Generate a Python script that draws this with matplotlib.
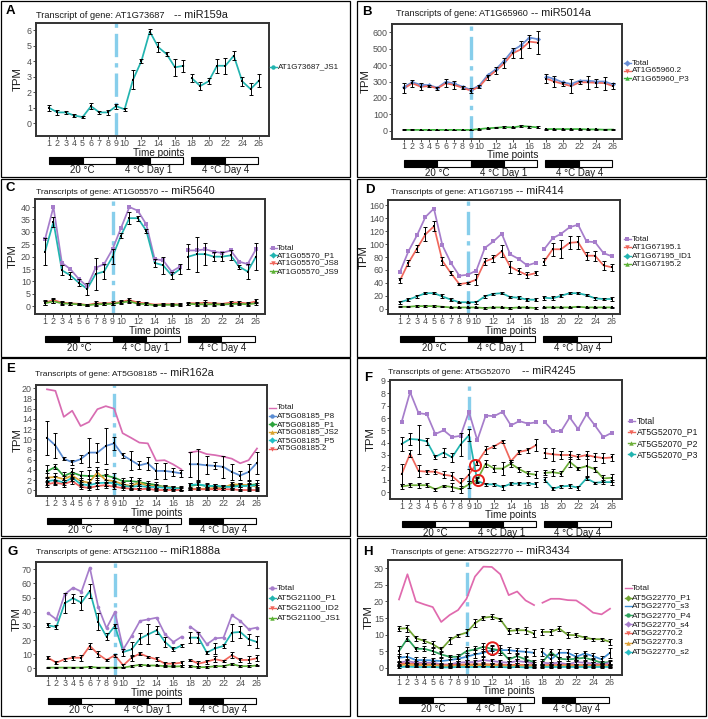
import matplotlib
matplotlib.use('Agg')
import matplotlib.pyplot as plt
from matplotlib.lines import Line2D
from matplotlib.patches import Rectangle
import matplotlib.transforms as mtransforms

plt.rcParams['font.family'] = ['Liberation Sans', 'DejaVu Sans']

# ---------------- data ----------------
TIME = [1, 2, 3, 4, 5, 6, 7, 8, 9, 10, 11, 12, 13, 14, 15, 16, 17, 18, 19, 20, 21, 22, 23, 24, 25, 26]
XTICKS = [1, 2, 3, 4, 5, 6, 7, 8, 9, 10, 12, 14, 16, 18, 20, 22, 24, 26]
COND_LABELS = ["20 °C", "4 °C Day 1", "4 °C Day 4"]

# Panel A
A_js1 = [1.0, 0.7, 0.7, 0.5, 0.4, 1.1, 0.7, 0.7, 1.1, 0.9, 2.8, 4.0, 5.9, 4.9, 4.45, 3.6, 3.7, 2.9, 2.4, 2.7, 3.7, 3.7, 4.35, 2.7, 2.2, 2.75]
A_js1_err = [0.2, 0.15, 0.08, 0.1, 0.08, 0.2, 0.1, 0.15, 0.15, 0.08, 0.6, 0.15, 0.15, 0.3, 0.12, 0.55, 0.4, 0.25, 0.25, 0.2, 0.45, 0.5, 0.3, 0.3, 0.4, 0.4]

# Panel B
B_total = [268, 295, 280, 278, 262, 298, 288, 268, 250, 275, 338, 375, 428, 490, 520, 568, 558, 330, 315, 295, 285, 305, 305, 300, 300, 282]
B_t2 = [258, 289, 268, 272, 258, 289, 279, 262, 244, 268, 325, 366, 411, 472, 496, 543, 537, 318, 300, 285, 272, 295, 295, 292, 290, 272]
B_t2_err = [30, 20, 20, 8, 10, 25, 25, 10, 15, 10, 15, 20, 30, 30, 50, 40, 70, 25, 35, 15, 45, 10, 40, 25, 40, 20]
B_p3 = [5, 5, 5, 5, 5, 5, 5, 5, 5, 10, 15, 18, 22, 20, 28, 25, 20, 10, 10, 10, 10, 10, 8, 8, 6, 7]
B_p3_err = [3, 3, 2, 2, 2, 2, 2, 2, 2, 3, 4, 4, 6, 5, 8, 6, 6, 3, 3, 3, 3, 3, 2, 2, 2, 2]

# Panel C
C_total = [27, 40, 17.5, 15, 11, 8, 15.5, 17, 23, 31.5, 40, 38.5, 33, 19, 18.5, 14, 16, 22.5, 22.5, 23, 22, 21.5, 22.5, 18, 17, 23]
C_p1 = [22, 34, 14.5, 12.5, 9.5, 7, 13, 14, 20, 28.5, 35.5, 35.5, 30.5, 17.5, 16.5, 12.5, 15, 20, 21, 21, 20, 20, 20.5, 16, 14, 20]
C_p1_err = [5.5, 2, 2, 1.5, 1.5, 2.5, 6.5, 3, 3, 1, 2.5, 1, 0.8, 1.5, 3.5, 1.5, 2, 5, 7, 4.5, 1.8, 1.8, 2, 0.8, 3, 5.5]
C_js8 = [1.5, 2.5, 1.5, 1.2, 1, 0.5, 1.2, 1.2, 1.3, 1.8, 2.5, 1.5, 1.2, 0.7, 0.9, 0.8, 0.8, 1.3, 1.2, 1.5, 1.2, 1, 1.5, 1.5, 1.2, 2]
C_js8_err = [1, 1, 0.6, 0.5, 0.4, 0.4, 0.8, 0.6, 0.7, 0.6, 0.8, 0.6, 0.5, 0.3, 0.4, 0.4, 0.4, 0.6, 0.7, 1, 0.6, 0.4, 0.8, 0.7, 0.6, 0.8]
C_js9 = [1.2, 2, 1.2, 1, 0.8, 0.4, 0.8, 0.9, 1, 1.5, 2, 1, 0.9, 0.4, 0.6, 0.6, 0.5, 1, 0.8, 0.8, 0.8, 0.7, 0.9, 1, 0.8, 1.2]
C_js9_err = [0.8, 0.8, 0.5, 0.4, 0.3, 0.3, 0.6, 0.5, 0.5, 0.5, 0.6, 0.5, 0.4, 0.3, 0.3, 0.3, 0.3, 0.5, 0.5, 0.8, 0.5, 0.3, 0.6, 0.5, 0.5, 0.6]

# Panel D
D_total = [57, 89, 113.5, 142, 155, 98, 71, 51, 52.6, 59, 94, 104, 116, 84, 77, 67, 71, 92, 109, 116, 126, 130, 104, 103, 86, 81]
D_t1 = [44, 71, 93, 115, 127.5, 74, 55, 38, 40, 45, 73, 78, 89, 65, 58, 52, 55, 73, 92, 92, 102, 103, 82, 82, 67, 64]
D_t1_err = [4, 5, 5, 11, 8, 6, 3, 2, 2, 9, 6, 5, 9, 9, 5, 5, 3, 6, 10, 14, 10, 10, 6, 8, 7, 5]
D_id1 = [10, 14, 19, 24, 24, 19, 14, 10, 10, 10, 19, 23, 24, 18, 17, 14, 14, 17, 16, 20, 24, 24, 21, 16, 15, 15]
D_id1_err = [2, 2, 2, 2, 2, 3, 2, 1, 1, 2, 2, 2, 2, 2, 2, 2, 2, 3, 3, 2, 2, 2, 2, 2, 2, 3]
D_t2 = [3, 3, 4, 4, 4, 3, 2, 2, 2, 2, 1, 2, 2, 1, 2, 2, 1, 2, 2, 2, 2, 3, 2, 2, 2, 2]
D_t2_err = [1, 1, 1, 1, 1, 1, 1, 1, 1, 1, 1, 1, 1, 1, 1, 1, 1, 1, 1, 1, 1, 1, 1, 1, 1, 1]

# Panel E
E_total = [19.8, 19.5, 14.4, 15.6, 12.6, 13.4, 15.9, 16.5, 16.0, 11.2, 10.3, 9.35, 9.2, 5.8, 5.9, 5.1, 4.1, 7.4, 7.7, 7.1, 6.9, 6.6, 6.2, 5.3, 5.9, 8.2]
E_p8 = [10.3, 8.8, 6.2, 5.5, 6.1, 7.4, 7.4, 8.7, 9.2, 6.9, 5.9, 4.9, 5.3, 3.8, 3.8, 3.6, 3.3, 5.1, 5.1, 4.9, 4.8, 4.6, 3.6, 2.9, 3.6, 5.4]
E_p8_err = [3.3, 2.4, 0.3, 0.5, 0.8, 2.9, 1.9, 3.5, 1.3, 0.5, 1.9, 0.8, 1.3, 1.5, 1.5, 0.7, 0.7, 2.4, 3.0, 1.8, 0.7, 2.1, 1.5, 0.8, 1.6, 2.2]
E_p1 = [3.7, 4.6, 2.8, 3.5, 2.9, 2.8, 2.8, 2.9, 2.5, 1.8, 1.8, 1.6, 1.3, 1.05, 0.65, 0.5, 0.45, 0.85, 1.1, 0.85, 0.85, 0.7, 0.85, 0.85, 1.0, 1.2]
E_p1_err = [1.3, 0.5, 0.8, 0.8, 0.8, 1.2, 1.2, 1.3, 0.8, 0.6, 0.9, 0.8, 0.6, 0.6, 0.4, 0.3, 0.3, 0.5, 0.8, 0.5, 0.4, 0.3, 0.4, 0.5, 0.8, 0.8]
E_js2 = [2.5, 2.6, 2.2, 2.9, 1.8, 1.5, 3.5, 2.0, 1.8, 1.2, 0.85, 1.5, 0.85, 0.85, 0.65, 0.5, 0.3, 0.3, 0.3, 0.3, 0.45, 0.45, 1.2, 1.1, 1.0, 0.7]
E_js2_err = [0.8, 0.8, 0.6, 0.6, 0.6, 0.8, 1.0, 1.2, 0.6, 0.5, 0.5, 0.6, 0.5, 0.4, 0.3, 0.3, 0.3, 0.3, 0.3, 0.3, 0.3, 0.3, 0.4, 0.4, 0.4, 0.4]
E_p5 = [1.8, 2.0, 1.5, 2.5, 1.2, 1.0, 1.4, 1.5, 1.4, 0.85, 0.7, 0.85, 0.65, 0.65, 0.5, 0.45, 0.3, 1.0, 1.2, 0.85, 0.85, 0.7, 0.65, 0.85, 0.85, 1.0]
E_p5_err = [0.8, 0.8, 0.5, 0.6, 0.5, 0.5, 0.6, 0.6, 0.5, 0.4, 0.4, 0.4, 0.3, 0.3, 0.3, 0.2, 0.2, 0.5, 0.5, 0.3, 0.3, 0.3, 0.3, 0.3, 0.4, 0.4]
E_t2 = [1.2, 1.5, 1.2, 1.8, 0.7, 0.45, 0.85, 1.0, 0.7, 0.45, 0.3, 0.2, 0.3, 0.05, 0.05, 0.05, 0.05, 0.2, 0.2, 0.2, 0.2, 0.2, 0.2, 0.05, 0.05, 0.05]
E_t2_err = [0.6, 0.5, 0.5, 0.6, 0.4, 0.3, 0.5, 0.5, 0.4, 0.3, 0.2, 0.2, 0.2, 0.1, 0.1, 0.1, 0.1, 0.2, 0.2, 0.2, 0.2, 0.2, 0.2, 0.1, 0.1, 0.1]

# Panel F
F_total = [5.7, 8.1, 6.4, 6.3, 4.7, 5.0, 4.45, 4.55, 6.5, 4.2, 6.2, 6.15, 6.5, 5.4, 5.75, 5.55, 5.65, 5.7, 4.95, 4.95, 6.05, 5.1, 6.3, 5.4, 4.45, 4.8]
F_p1 = [1.45, 3.1, 1.7, 1.65, 1.65, 1.4, 1.3, 0.7, 1.4, 2.4, 3.4, 3.7, 4.1, 2.5, 3.25, 3.4, 3.8, 3.15, 3.05, 3.0, 3.0, 2.85, 3.0, 2.85, 2.75, 2.8]
F_p1_err = [0.8, 0.3, 0.5, 0.15, 0.2, 0.3, 0.3, 0.4, 0.5, 0.2, 0.3, 0.15, 0.1, 0.1, 0.15, 0.2, 0.5, 0.4, 0.55, 0.3, 0.3, 0.2, 0.3, 0.3, 0.4, 0.3]
F_p2 = [0.45, 0.55, 0.55, 0.55, 0.22, 0.5, 0.4, 0.22, 0.62, 1.0, 2.3, 1.9, 1.9, 2.3, 1.85, 1.5, 1.4, 1.55, 1.6, 1.5, 2.45, 1.9, 2.1, 1.85, 1.1, 1.15]
F_p2_err = [0.2, 0.15, 0.2, 0.15, 0.1, 0.1, 0.3, 0.3, 0.3, 0.2, 0.3, 0.3, 0.5, 0.3, 0.2, 0.2, 0.3, 0.2, 0.3, 0.2, 0.4, 0.15, 0.8, 0.2, 0.3, 0.3]
F_p3 = [3.9, 4.3, 4.25, 4.1, 2.85, 3.2, 2.8, 3.85, 4.6, 0.9, 0.62, 0.62, 0.4, 0.68, 0.68, 0.7, 0.62, 1.0, 0.27, 0.45, 0.5, 0.35, 1.1, 0.75, 0.8, 0.8]
F_p3_err = [0.6, 0.5, 1.2, 0.3, 0.15, 0.4, 0.4, 0.9, 0.5, 0.2, 0.15, 0.15, 0.2, 0.1, 0.15, 0.15, 0.2, 0.2, 0.1, 0.1, 0.15, 0.15, 0.15, 0.1, 0.15, 0.2]
F_circles_x = [9.7, 10.1]
F_circles_y = [2.15, 0.97]

# Panel G
G_total = [39, 34.6, 52.3, 57, 54.2, 71.2, 43.6, 28.3, 39.8, 13.4, 22.9, 33.5, 34.6, 35.8, 24, 18.6, 22.4, 29.5, 25.2, 17, 21.2, 21.7, 37.5, 33.5, 27.6, 28.8]
G_p1 = [30.4, 29.2, 46, 49.5, 46.4, 54.7, 32.8, 22.4, 30, 11.5, 13.4, 21, 24, 26.9, 18.6, 13.4, 16.3, 21.7, 21.7, 11.1, 14.1, 15.8, 25.2, 25.7, 20.5, 18.6]
G_p1_err = [1.5, 1.5, 7, 3, 5, 5, 6, 2.5, 1.5, 2.5, 5, 4, 7, 3, 3.5, 1.5, 1, 4, 4, 1, 4, 1.5, 6, 4, 4, 4]
G_id2 = [7.5, 4, 6.4, 7.5, 7.5, 15.8, 10, 5.9, 9.2, 2.1, 7.5, 10.4, 8, 6.4, 3.3, 3.3, 4, 5.9, 3.3, 4.7, 6.4, 5.2, 9.2, 5.9, 5.9, 7.1]
G_id2_err = [1, 1, 1, 1.5, 2, 2, 2, 1, 1, 1, 2, 1, 1, 1.5, 1.5, 1, 1.5, 1, 2, 1.5, 2, 1, 2, 1.5, 2.5, 2]
G_js1 = [0.5, 0.5, 0.5, 0.5, 0.5, 1, 0.5, 0.5, 0.5, 0.5, 1.5, 2.5, 2, 2, 1.5, 1.2, 1.5, 1.5, 0.8, 0.8, 1.5, 1.5, 3, 1.5, 1.5, 2]
G_js1_err = [0.5, 0.5, 0.5, 0.5, 0.5, 0.5, 0.5, 0.5, 0.5, 0.5, 0.6, 0.6, 0.5, 0.5, 0.5, 0.5, 0.5, 0.5, 0.5, 0.5, 0.5, 0.5, 0.8, 0.5, 0.5, 0.6]

# Panel H
H_total = [20.6, 28.2, 20, 19.1, 18.3, 13.8, 15.9, 17.4, 20.8, 27.5, 30.5, 30.4, 28.2, 21.9, 23, 20.3, 18.9, 19.6, 20.8, 20.8, 20.4, 20.3, 18.6, 16.6, 16.1, 17.8]
H_p1 = [11.8, 11.9, 8.9, 8.1, 7.1, 5.5, 8.3, 9.8, 10.6, 13.4, 15.1, 15.4, 14.6, 11.1, 11.3, 11.3, 10.3, 10.8, 10.8, 11.8, 9.9, 9.8, 9.1, 8.6, 8.6, 7.8]
H_p1_err = [0.8, 1.0, 0.8, 0.6, 1.0, 0.6, 1.0, 0.5, 1.0, 1.2, 0.6, 0.8, 0.5, 1.0, 0.8, 1.0, 1.0, 0.8, 0.8, 0.8, 0.8, 0.6, 0.5, 0.4, 0.4, 0.8]
H_s3 = [3, 3.3, 2.3, 2.3, 2.2, 2, 2.3, 2.7, 3.3, 4, 4.5, 5.3, 5.3, 5.3, 5, 4.8, 4.5, 4.7, 2.5, 4.5, 4.5, 3.3, 4.3, 3.5, 2.5, 4.5]
H_s3_err = [1.2, 1.0, 0.8, 0.8, 0.8, 0.8, 0.8, 0.8, 1.0, 1.2, 1.0, 1.5, 1.5, 1.0, 1.0, 1.2, 1.0, 1.2, 1.5, 1.2, 1.0, 1.0, 0.8, 1.0, 1.0, 1.5]
H_p4 = [5, 8.8, 5.7, 5.7, 5, 4, 3.3, 3.3, 5, 5.5, 6.3, 5.7, 5.2, 2.5, 3.5, 2.5, 1.7, 1.7, 4.7, 2.7, 2.5, 2.7, 3, 2.3, 1.5, 1.7]
H_p4_err = [1.5, 0.8, 0.6, 0.8, 1.0, 0.8, 0.6, 0.8, 1.2, 1.0, 1.2, 0.8, 0.8, 0.6, 0.8, 0.6, 0.5, 0.8, 0.8, 0.6, 0.6, 0.6, 0.8, 0.6, 0.5, 0.6]
H_s4 = [1.5, 2, 1.5, 1.5, 1.5, 1, 1, 1.5, 1.7, 1.7, 2.3, 2, 1.7, 1.5, 2, 1.7, 1.3, 1.5, 1.3, 1.5, 1, 1.7, 1.5, 1.3, 1, 1.5]
H_s4_err = [0.6, 0.6, 0.5, 0.5, 0.5, 0.5, 0.5, 0.5, 0.6, 0.6, 0.8, 0.6, 0.6, 0.5, 0.6, 0.5, 0.5, 0.5, 0.5, 0.5, 0.5, 0.6, 0.5, 0.5, 0.5, 0.6]
H_t2 = [1.2, 1.3, 1.1, 1.0, 1.0, 0.8, 0.8, 0.9, 1.0, 1.0, 1.1, 1.0, 0.9, 0.8, 0.9, 0.8, 0.8, 0.8, 0.8, 0.8, 0.8, 0.8, 0.8, 0.8, 0.8, 0.8]
H_t2_err = [0.5, 0.5, 0.4, 0.4, 0.4, 0.4, 0.4, 0.4, 0.4, 0.4, 0.5, 0.4, 0.4, 0.4, 0.4, 0.4, 0.4, 0.4, 0.4, 0.4, 0.4, 0.4, 0.4, 0.4, 0.4, 0.4]
H_t3 = [0.8, 0.9, 0.7, 0.7, 0.7, 0.5, 0.5, 0.6, 0.7, 0.7, 0.8, 0.7, 0.6, 0.5, 0.6, 0.5, 0.5, 0.5, 0.5, 0.5, 0.5, 0.5, 0.5, 0.5, 0.5, 0.5]
H_t3_err = [0.4, 0.4, 0.3, 0.3, 0.3, 0.3, 0.3, 0.3, 0.3, 0.3, 0.4, 0.3, 0.3, 0.3, 0.3, 0.3, 0.3, 0.3, 0.3, 0.3, 0.3, 0.3, 0.3, 0.3, 0.3, 0.3]
H_s2 = [0.2, 0.3, 0.2, 0.2, 0.2, 0.1, 0.1, 0.2, 0.2, 0.2, 0.3, 0.2, 0.2, 0.1, 0.2, 0.1, 0.1, 0.1, 0.1, 0.1, 0.1, 0.1, 0.1, 0.1, 0.1, 0.1]
H_s2_err = [0.2, 0.2, 0.1, 0.1, 0.1, 0.1, 0.1, 0.1, 0.1, 0.1, 0.2, 0.1, 0.1, 0.1, 0.1, 0.1, 0.1, 0.1, 0.1, 0.1, 0.1, 0.1, 0.1, 0.1, 0.1, 0.1]
H_circle_x = [12]
H_circle_y = [5.8]

# ---------------- colours ----------------
TEAL = '#22B4B0'
PURPLE = '#A67DCB'
RED = '#F0675C'
GREEN = '#5DB136'
BLUE = '#6B8FD6'
PINK = '#D86CB2'
VLINE = '#87CEEB'

# ---------------- figure ----------------
W, H = 708, 719
fig = plt.figure(figsize=(W / 100, H / 100), dpi=100)
renderer = fig.canvas.get_renderer()


def fx(x):
    return x / W


def fy(y):
    return 1 - y / H


def panel(letter, letter_xy, box, axbox, tick1, tick26, yhi, yhi_px, y0_px, ystep,
          title1, title2, title_xy, title_gap, ylab_x, series, leg_mx, leg_tx, leg_rows,
          leg_fs=6.0, circles=None, circle_ms=8, title_fs=6.1):
    # outer box
    x0, y0, x1, y1 = box
    fig.add_artist(Rectangle((fx(x0), fy(y1)), (x1 - x0) / W, (y1 - y0) / H,
                             transform=fig.transFigure, fill=False, lw=0.9, ec='black'))
    fig.text(fx(letter_xy[0]), fy(letter_xy[1]), letter, fontsize=9.5, fontweight='bold',
             va='center', ha='left')
    L, T, R, B = axbox
    ax = fig.add_axes([fx(L), fy(B), (R - L) / W, (B - T) / H])
    ppx = (tick26 - tick1) / 25.0
    ax.set_xlim(1 - (tick1 - L) / ppx, 26 + (R - tick26) / ppx)
    ppy = (y0_px - yhi_px) / yhi
    ax.set_ylim(-(B - y0_px) / ppy, yhi + (yhi_px - T) / ppy)
    yt = []
    v = 0
    while v <= yhi + 1e-9:
        yt.append(v)
        v += ystep
    ax.set_yticks(yt)
    ax.set_yticklabels([('%g' % t) for t in yt])
    ax.set_xticks(XTICKS)
    ax.set_xticklabels([str(t) for t in XTICKS])
    ax.tick_params(direction='out', length=2.0, width=0.6, color='#333333',
                   labelcolor='#4D4D4D', labelsize=6.4, pad=1.0)
    ax.tick_params(axis='x', labelsize=6.4, pad=0.4)
    for s in ax.spines.values():
        s.set_linewidth(1.4)
        s.set_color('#333333')
    ax.axvline(9, color=VLINE, lw=2.4, dashes=(7, 1.8, 1.3, 1.8), zorder=1)

    segs = [(0, 17), (17, 26)]
    for (label, vals, err, col, mk, lmk) in series:
        for a, b in segs:
            xs = TIME[a:b]
            ys = vals[a:b]
            ax.plot(xs, ys, color=col, lw=1.25, zorder=2)
            if err is None:
                if mk:
                    ax.plot(xs, ys, ls='none', marker=mk, ms=2.6, color=col, mew=0, zorder=3)
            else:
                ax.errorbar(xs, ys, yerr=err[a:b], fmt='none', ecolor='black',
                            elinewidth=0.7, capsize=1.5, capthick=0.7, zorder=4)
                ax.plot(xs, ys, ls='none', marker='s', ms=1.6, color='black', mew=0, zorder=5)
    if circles is not None:
        ax.plot(circles[0], circles[1], ls='none', marker='o', ms=circle_ms, mfc='none',
                mec='#E8201C', mew=1.4, zorder=6, clip_on=False)

    # y label
    fig.text(fx(ylab_x), fy((T + B) / 2), 'TPM', rotation=90, va='center', ha='center',
             fontsize=8.2, color='#1A1A1A')
    # x label
    bt = mtransforms.blended_transform_factory(ax.transData, fig.transFigure)
    ax.text(14, fy(B + 16.5), 'Time points', transform=bt, ha='center', va='center',
            fontsize=7.2, color='#1A1A1A')
    # condition bars
    bar_top = B + 21.5
    bar_h = 6.5
    for (xa, xb, fc) in [(1, 5, 'black'), (5, 9, 'white'), (9, 13, 'black'), (13, 16.95, 'white'),
                         (17.9, 21.9, 'black'), (21.9, 25.9, 'white')]:
        ax.add_patch(Rectangle((xa, fy(bar_top + bar_h)), xb - xa, bar_h / H, transform=bt,
                               fc=fc, ec='black', lw=0.8, clip_on=False))
    for lab, xc in zip(COND_LABELS, [5, 12.9, 22]):
        ax.text(xc, fy(B + 34), lab, transform=bt, ha='center', va='center', fontsize=7,
                color='#1A1A1A')
    # title
    t1 = fig.text(fx(title_xy[0]), fy(title_xy[1] + 2.5), title1, fontsize=title_fs, va='baseline',
                  ha='left', color='#1A1A1A')
    ext = t1.get_window_extent(renderer=renderer)
    fig.text(fx(ext.x1 + title_gap), fy(title_xy[1] + 2.5), title2, fontsize=7.8, va='baseline',
             ha='left', color='#1A1A1A')
    # legend (manual)
    for (label, vals, err, col, mk, lmk), ry in zip(series, leg_rows):
        fig.add_artist(Line2D([fx(leg_mx - 3.5), fx(leg_mx + 3.5)], [fy(ry), fy(ry)],
                              transform=fig.transFigure, color=col, lw=1.0))
        if lmk:
            fig.add_artist(Line2D([fx(leg_mx)], [fy(ry)], transform=fig.transFigure, ls='none',
                                  marker=lmk, ms=3.2, color=col, mew=0))
        fig.text(fx(leg_tx), fy(ry), label, fontsize=leg_fs, va='center', ha='left',
                 color='#1A1A1A')
    return ax


# Panel A
panel('A', (6, 11), (1, 1, 350, 177), (36, 23, 269, 136), 49, 259, 6, 30, 123.3, 1,
      'Transcript of gene: AT1G73687', '-- miR159a', (36, 15), 9, 18,
      [('AT1G73687_JS1', A_js1, A_js1_err, TEAL, 'o', 'o')],
      273, 278, [67], leg_fs=5.8, title_fs=6.7)

# Panel B
panel('B', (362, 12), (357, 1, 706, 177), (392, 24, 622, 139), 404, 613, 600, 32.3, 130.7, 100,
      'Transcripts of gene: AT1G65960', '-- miR5014a', (396, 14), 3, 366,
      [('Total', B_total, None, BLUE, 'D', 'D'),
       ('AT1G65960.2', B_t2, B_t2_err, RED, 'v', 'v'),
       ('AT1G65960_P3', B_p3, B_p3_err, '#3DB53D', '^', '^')],
      627, 632, [63.3, 70.7, 78.3], leg_fs=5.9, title_fs=6.6)

# Panel C
panel('C', (6, 188), (1, 179, 350, 357), (35, 199, 265, 314), 45, 256, 40, 207, 306.3, 5,
      'Transcripts of gene: AT1G05570', '-- miR5640', (36, 191), 3, 13,
      [('Total', C_total, None, PURPLE, 's', 's'),
       ('AT1G05570_P1', C_p1, C_p1_err, TEAL, 'D', 'D'),
       ('AT1G05570_JS8', C_js8, C_js8_err, RED, 'v', 'v'),
       ('AT1G05570_JS9', C_js9, C_js9_err, GREEN, '^', '^')],
      273, 277, [248, 255.3, 263, 271.3], leg_fs=5.9)

# Panel D
panel('D', (365, 190), (357, 179, 706, 357), (388, 200, 620, 314), 400, 612, 160, 205.3, 308.7, 20,
      'Transcripts of gene: AT1G67195', '-- miR414', (391, 191), 3, 364,
      [('Total', D_total, None, PURPLE, 's', 's'),
       ('AT1G67195.1', D_t1, D_t1_err, RED, 'v', 'v'),
       ('AT1G67195_ID1', D_id1, D_id1_err, TEAL, 'D', 'D'),
       ('AT1G67195.2', D_t2, D_t2_err, GREEN, '^', '^')],
      627, 632, [239, 247.3, 255.7, 264], leg_fs=5.9)

# Panel E
panel('E', (6, 369), (1, 358, 350, 536), (36, 385, 267, 496), 47, 257, 20, 388.3, 490.3, 2,
      'Transcripts of gene: AT5G08185', '-- miR162a', (35, 373), 3, 18,
      [('Total', E_total, None, PINK, None, None),
       ('AT5G08185_P8', E_p8, E_p8_err, '#5B8DD3', 'o', 'o'),
       ('AT5G08185_P1', E_p1, E_p1_err, '#2EA33C', 'D', 'D'),
       ('AT5G08185_JS2', E_js2, E_js2_err, '#D9A330', '^', '^'),
       ('AT5G08185_P5', E_p5, E_p5_err, '#22BFC4', 'D', 'D'),
       ('AT5G08185.2', E_t2, E_t2_err, '#EF5F5B', 'v', 'v')],
      272, 277, [407.7, 416, 424.3, 432, 440.3, 448.7], leg_fs=5.9)

# Panel F
panel('F', (364, 378), (357, 358, 706, 536), (390, 380, 622, 499), 401.7, 611.7, 9, 381, 492, 1,
      'Transcripts of gene: AT5G52070', '-- miR4245', (388, 371), 12, 371,
      [('Total', F_total, None, PURPLE, 's', 's'),
       ('AT5G52070_P1', F_p1, F_p1_err, RED, 'v', 'v'),
       ('AT5G52070_P2', F_p2, F_p2_err, '#6EAF3A', '^', '^'),
       ('AT5G52070_P3', F_p3, F_p3_err, TEAL, 'D', 'D')],
      631, 637, [421, 432, 443.3, 454.3], leg_fs=6.2,
      circles=(F_circles_x, F_circles_y), circle_ms=8)

# Panel G
panel('G', (8, 552), (1, 538, 350, 716), (36, 562, 267, 676), 48, 257, 70, 569.3, 668.3, 10,
      'Transcripts of gene: AT5G21100', '-- miR1888a', (36, 552), 3, 17,
      [('Total', G_total, None, PURPLE, 'o', 'o'),
       ('AT5G21100_P1', G_p1, G_p1_err, TEAL, 'D', 'D'),
       ('AT5G21100_ID2', G_id2, G_id2_err, RED, 'v', 'v'),
       ('AT5G21100_JS1', G_js1, G_js1_err, GREEN, '^', '^')],
      272, 277, [588.3, 597.7, 607.7, 617.7], leg_fs=6.1)

# Panel H
panel('H', (363, 552), (357, 538, 706, 716), (388, 560, 622, 675), 399, 610, 30, 568.3, 667.7, 5,
      'Transcripts of gene: AT5G22770', '-- miR3434', (391, 552), 3, 369,
      [('Total', H_total, None, '#E06AAE', None, None),
       ('AT5G22770_P1', H_p1, H_p1_err, '#72A534', 'D', 'D'),
       ('AT5G22770_s3', H_s3, H_s3_err, '#3E8FD6', None, None),
       ('AT5G22770_P4', H_p4, H_p4_err, '#2EA35D', 'o', 'o'),
       ('AT5G22770_s4', H_s4, H_s4_err, '#A77ECB', 'D', 'D'),
       ('AT5G22770.2', H_t2, H_t2_err, RED, 'v', 'v'),
       ('AT5G22770.3', H_t3, H_t3_err, '#E0A035', '^', '^'),
       ('AT5G22770_s2', H_s2, H_s2_err, '#28BFC6', 'D', 'D')],
      628, 632, [588.3, 597.7, 606, 615.3, 624.3, 633.3, 642.7, 652], leg_fs=6.0,
      circles=(H_circle_x, H_circle_y), circle_ms=9)

fig.savefig('out.png', dpi=100)
